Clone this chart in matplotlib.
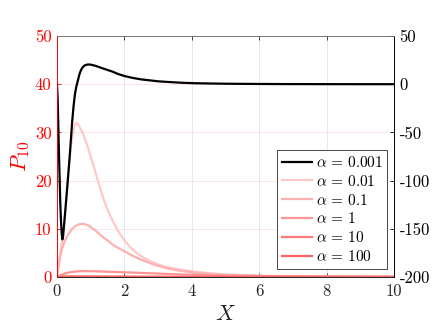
import numpy as np
import matplotlib
matplotlib.use('Agg')
import matplotlib.pyplot as plt

plt.rcParams['font.family'] = 'serif'
plt.rcParams['font.serif'] = ['cmr10', 'DejaVu Serif']
plt.rcParams['mathtext.fontset'] = 'cm'
plt.rcParams['axes.unicode_minus'] = False

# alpha = 0.001, read on the right axis
x_a0 = [0, 0.02, 0.04, 0.06, 0.08, 0.10, 0.12, 0.14, 0.16, 0.18, 0.20, 0.23, 0.26, 0.32,
        0.38, 0.45, 0.49, 0.53, 0.57, 0.61, 0.66, 0.71, 0.76, 0.82, 0.87, 0.92, 1.0, 1.15,
        1.31, 1.48, 1.65, 1.82, 2.0, 2.25, 2.5, 2.75, 3.0, 3.35, 3.7, 4.1, 4.5, 5.0, 5.5,
        6.5, 8.0, 10]
y_a0 = [0, -15, -45, -73.5, -100, -125.5, -143, -155, -161, -158, -150, -138, -125.5, -100,
        -73.5, -39, -23.5, -11, -3, 2.5, 9.5, 14.5, 17.5, 19.5, 20, 20.5, 20.3, 19,
        17, 15, 13, 10.5, 8.5, 6.5, 5, 4, 3, 2.2, 1.5, 1, 0.75, 0.5, 0.35,
        0.15, 0.05, 0]

# the others, read on the left axis (P_10)
x_a1 = [0, 0.05, 0.1, 0.15, 0.2, 0.25, 0.3, 0.35, 0.4, 0.45, 0.5, 0.55, 0.6, 0.65, 0.72,
        0.8, 0.9, 1.0, 1.1, 1.2, 1.3, 1.4, 1.5, 1.6, 1.7, 1.8, 1.9, 2.0, 2.2, 2.4, 2.6,
        2.8, 3.0, 3.3, 3.6, 4.0, 4.5, 5.0, 5.5, 6.0, 7.0, 8.0, 10]
y_a1 = [0, 2.5, 5, 7.5, 10.5, 14, 18, 22.5, 26.3, 29, 30.9, 31.9, 31.9, 31.4, 30.5,
        29.2, 27.3, 25.0, 22.7, 20.3, 18.0, 15.8, 14.0, 12.4, 11.0, 9.7, 8.6, 7.6, 6.0, 4.8, 3.9,
        3.2, 2.6, 2.0, 1.6, 1.2, 0.8, 0.55, 0.4, 0.3, 0.18, 0.1, 0.04]

x_a2 = [0, 0.05, 0.1, 0.15, 0.2, 0.25, 0.3, 0.35, 0.4, 0.45, 0.5, 0.55, 0.62, 0.7, 0.78,
        0.86, 0.95, 1.05, 1.15, 1.28, 1.4, 1.5, 1.6, 1.7, 1.85, 2.0, 2.15, 2.3, 2.46, 2.6,
        2.8, 3.0, 3.3, 3.6, 4.0, 4.5, 5.0, 5.5, 6.0, 7.0, 8.0, 10]
y_a2 = [0, 2.5, 4.3, 5.8, 6.9, 7.7, 8.4, 9.0, 9.5, 10.0, 10.3, 10.6, 10.85, 11.0, 11.0,
        10.9, 10.6, 10.1, 9.6, 8.8, 8.1, 7.6, 7.0, 6.5, 5.9, 5.35, 4.75, 4.2, 3.7, 3.3,
        2.75, 2.3, 1.75, 1.35, 0.95, 0.6, 0.4, 0.28, 0.2, 0.1, 0.06, 0.02]

x_a3 = [0, 0.1, 0.2, 0.3, 0.4, 0.5, 0.6, 0.75, 0.9, 1.1, 1.3, 1.6, 2.0, 2.5, 3.0, 3.5,
        4.0, 5.0, 6.0, 7.0, 8.0, 10]
y_a3 = [0, 0.35, 0.65, 0.85, 1.0, 1.1, 1.17, 1.2, 1.21, 1.19, 1.15, 1.08, 0.98, 0.85, 0.72, 0.58,
        0.46, 0.3, 0.2, 0.13, 0.08, 0.03]

x_a4 = [0, 0.1, 0.2, 0.4, 0.7, 1, 2, 3, 5, 10]
y_a4 = [0, 0.08, 0.12, 0.14, 0.13, 0.12, 0.09, 0.06, 0.03, 0.01]

x_a5 = [0, 0.05, 0.2, 1, 3, 10]
y_a5 = [0, 0.012, 0.015, 0.014, 0.01, 0.003]

labels = [r'$\alpha\,=\,0.001$', r'$\alpha\,=\,0.01$', r'$\alpha\,=\,0.1$',
          r'$\alpha\,=\,1$', r'$\alpha\,=\,10$', r'$\alpha\,=\,100$']
pinks = ['#ffc8c8', '#ffb0b0', '#ff9494', '#ff7878', '#ff6464']

x_ticks = [0, 2, 4, 6, 8, 10]
left_ticks = [0, 10, 20, 30, 40, 50]
right_ticks = [-200, -150, -100, -50, 0, 50]

fig = plt.figure(figsize=(4.36, 3.27), dpi=100)
ax = fig.add_axes([0.1307, 0.1529, 0.7730, 0.7370])
ax2 = ax.twinx()

red = '#ff0000'
axc = '#262626'

lines = []
for xs, ys, c, lab in zip([x_a1, x_a2, x_a3, x_a4, x_a5], [y_a1, y_a2, y_a3, y_a4, y_a5],
                          pinks, labels[1:]):
    l, = ax.plot(xs, ys, color=c, lw=1.6, label=lab, solid_joinstyle='round')
    lines.append(l)
l0, = ax2.plot(x_a0, y_a0, color='black', lw=1.6, label=labels[0], solid_joinstyle='round')

ax.set_xlim(0, 10)
ax.set_ylim(0, 50)
ax2.set_ylim(-200, 50)

ax.set_xticks(x_ticks)
ax.set_xticklabels([str(t) for t in x_ticks])
ax.set_yticks(left_ticks)
ax.set_yticklabels([str(t) for t in left_ticks])
ax2.set_yticks(right_ticks)
ax2.set_yticklabels([str(t) for t in right_ticks])

# grid: grey verticals, pink horizontals
for t in x_ticks[1:-1]:
    ax.axvline(t, color=axc, alpha=0.12, lw=0.6, zorder=0)
for t in left_ticks[1:-1]:
    ax.axhline(t, color=red, alpha=0.12, lw=0.6, zorder=0)

ax.tick_params(axis='x', direction='in', length=3, width=0.6, colors=axc, labelsize=12,
               top=True, pad=5)
ax.tick_params(axis='y', direction='in', length=3, width=0.6, colors=red, labelsize=12, pad=4)
ax2.tick_params(axis='y', direction='in', length=3, width=0.6, colors='black', labelsize=12, pad=4)

for a in (ax, ax2):
    a.spines['top'].set_color('#777777')
    a.spines['bottom'].set_color(axc)
    a.spines['left'].set_color(red)
    a.spines['right'].set_color('black')
    for s in a.spines.values():
        s.set_linewidth(0.6)

ax.set_ylabel(r'$P_{10}$', color=red, fontsize=16, labelpad=2)
ax.set_xlabel(r'$X$', color=axc, fontsize=16, labelpad=4)

leg = ax2.legend([l0] + lines, labels, loc='lower right', bbox_to_anchor=(0.98, 0.035),
                 fontsize=11, frameon=True, fancybox=False, labelspacing=0.25,
                 handlelength=2.0, handletextpad=0.2, borderpad=0.3, borderaxespad=0)
leg.get_frame().set_edgecolor('#262626')
leg.get_frame().set_linewidth(0.6)
leg.get_frame().set_alpha(1)

fig.savefig('out.png', dpi=100)
